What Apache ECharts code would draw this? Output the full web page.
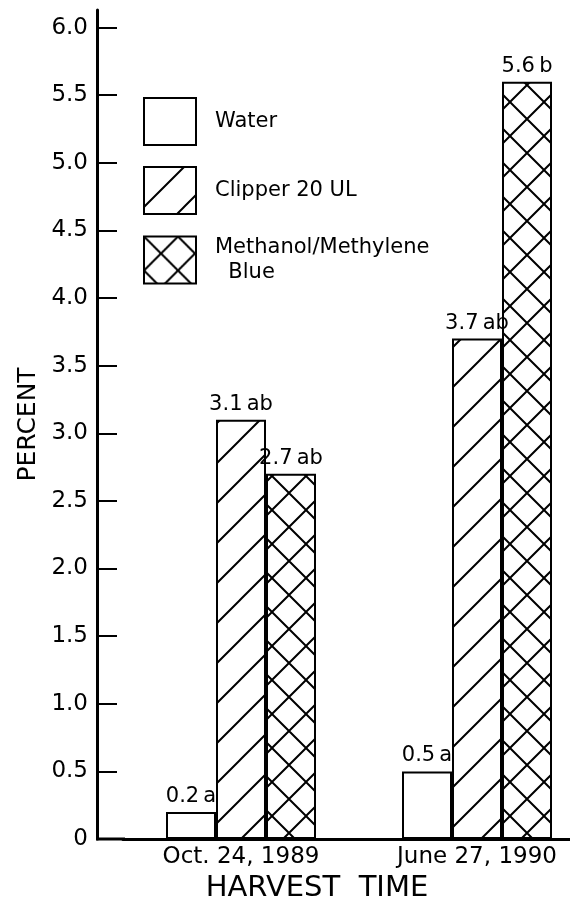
<!DOCTYPE html>
<html>
<head>
<meta charset="utf-8">
<script src="https://cdn.jsdelivr.net/npm/echarts@6/dist/echarts.min.js"></script>
<style>
  html, body { margin: 0; padding: 0; background: #fff; }
  #chart { width: 570px; height: 902px; }
</style>
</head>
<body>
<div id="chart"></div>
<script>
var categories = ['Oct. 24, 1989', 'June 27, 1990']
var waterValues = [0.2, 0.5]
var clipperValues = [3.1, 3.7]
var methanolValues = [2.7, 5.6]
var waterLetters = ['a', 'a']
var clipperLetters = ['ab', 'ab']
var methanolLetters = ['ab', 'b']
var tickValues = [0, 0.5, 1, 1.5, 2, 2.5, 3, 3.5, 4, 4.5, 5, 5.5, 6]
var tickLabels = ['0', '0.5', '1.0', '1.5', '2.0', '2.5', '3.0', '3.5', '4.0', '4.5', '5.0', '5.5', '6.0']

var FONT = 'DejaVu Sans'

// hatch fill, single or crossed diagonals
function makeHatch(size, cross) {
  var c = document.createElement('canvas')
  c.width = size
  c.height = size
  var ctx = c.getContext('2d')
  ctx.fillStyle = '#fff'
  ctx.fillRect(0, 0, size, size)
  ctx.strokeStyle = '#000'
  ctx.lineWidth = 2
  ctx.beginPath()
  ctx.moveTo(-2, size + 2); ctx.lineTo(size + 2, -2)
  ctx.moveTo(-4, 4); ctx.lineTo(4, -4)
  ctx.moveTo(size - 4, size + 4); ctx.lineTo(size + 4, size - 4)
  if (cross) {
    ctx.moveTo(-2, -2); ctx.lineTo(size + 2, size + 2)
    ctx.moveTo(size - 4, -4); ctx.lineTo(size + 4, 4)
    ctx.moveTo(-4, size - 4); ctx.lineTo(4, size + 4)
  }
  ctx.stroke()
  return { image: c, repeat: 'repeat' }
}

function labelFor(letters) {
  return {
    show: true,
    position: 'top',
    distance: 5,
    color: '#000',
    fontFamily: FONT,
    fontSize: 21,
    formatter: function (p) {
      return p.value.toFixed(1) + '\u2009' + letters[p.dataIndex]
    }
  }
}

function barSeries(name, values, letters, fill) {
  return {
    name: name,
    type: 'bar',
    barWidth: 50,
    barGap: '0%',
    itemStyle: { color: fill, borderColor: '#000', borderWidth: 2 },
    label: labelFor(letters),
    emphasis: { disabled: true },
    data: values
  }
}

var chart = echarts.init(document.getElementById('chart'))
var options = {
  animation: false,
  textStyle: { fontFamily: FONT, color: '#000' },
  grid: { left: 123, right: -25, top: 10, bottom: 63, outerBoundsMode: 'none', containLabel: false },
  legend: {
    orient: 'vertical',
    left: 143,
    top: 97,
    padding: 0,
    itemWidth: 52,
    itemHeight: 47,
    itemGap: 20,
    icon: 'rect',
    selectedMode: false,
    textStyle: { fontFamily: FONT, fontSize: 21, color: '#000', lineHeight: 25, padding: [0, 0, 0, 14] },
    formatter: function (name) {
      return name === 'Methanol/Methylene' ? 'Methanol/Methylene\n  Blue' : name
    }
  },
  xAxis: {
    type: 'category',
    data: categories,
    name: 'HARVEST  TIME',
    nameLocation: 'middle',
    nameGap: 34,
    nameTextStyle: { fontFamily: FONT, fontSize: 29, color: '#000', padding: [0, 84, 0, 0] },
    axisLine: { lineStyle: { color: '#000', width: 3 } },
    axisTick: { show: false },
    axisLabel: { interval: 0, margin: 7, color: '#000', fontFamily: FONT, fontSize: 23 }
  },
  yAxis: {
    type: 'value',
    min: 0,
    max: 6.13,
    offset: 26,
    name: 'PERCENT',
    nameLocation: 'middle',
    nameGap: 56,
    nameTextStyle: { fontFamily: FONT, fontSize: 25, color: '#000' },
    axisLine: { show: true, lineStyle: { color: '#000', width: 3 } },
    axisTick: { show: true, inside: true, length: 20, customValues: tickValues, lineStyle: { color: '#000', width: 2 } },
    axisLabel: {
      margin: 9,
      color: '#000',
      fontFamily: FONT,
      fontSize: 23,
      customValues: tickValues,
      formatter: function (v) {
        var i = tickValues.indexOf(v)
        return i >= 0 ? tickLabels[i] : ''
      }
    },
    splitLine: { show: false }
  },
  series: [
    barSeries('Water', waterValues, waterLetters, '#fff'),
    barSeries('Clipper 20 UL', clipperValues, clipperLetters, makeHatch(40, false)),
    barSeries('Methanol/Methylene', methanolValues, methanolLetters, makeHatch(34, true))
  ]
}
chart.setOption(options)

// close the gap between the offset y axis and the start of the x axis
var base = chart.convertToPixel({ gridIndex: 0 }, [0, 0])
chart.setOption({
  graphic: [{
    type: 'line',
    shape: { x1: 96, y1: base[1], x2: 125, y2: base[1] },
    style: { stroke: '#000', lineWidth: 3 }
  }]
})
</script>
</body>
</html>
